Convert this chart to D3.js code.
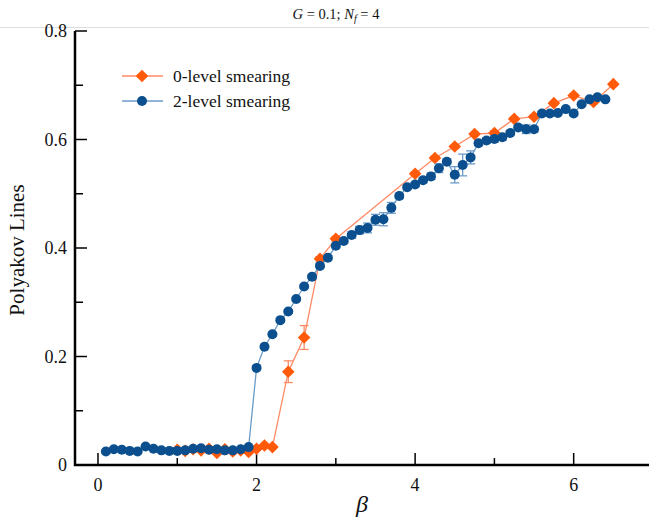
<!DOCTYPE html>
<html>
<head>
<meta charset="utf-8">
<script src="https://cdn.jsdelivr.net/npm/d3@7"></script>
<style>
  html, body { margin: 0; padding: 0; background: #fff; }
  svg { display: block; }
</style>
</head>
<body>
<svg id="chart" width="649" height="519"></svg>
<script>
// Polyakov line expectation vs. beta for two smearing levels
const beta0 = [1.0, 1.1, 1.2, 1.3, 1.4, 1.5, 1.6, 1.7, 1.8, 1.9, 2.0, 2.1, 2.2,
               2.4, 2.6, 2.8, 3.0,
               4.0, 4.25, 4.5, 4.75, 5.0, 5.25, 5.5, 5.75, 6.0, 6.25, 6.5];
const poly0 = [0.028, 0.026, 0.029, 0.027, 0.030, 0.022, 0.029, 0.025, 0.027, 0.024, 0.030, 0.036, 0.033,
               0.172, 0.235, 0.380, 0.417,
               0.537, 0.566, 0.587, 0.610, 0.612, 0.638, 0.642, 0.667, 0.681, 0.669, 0.702];
const err0  = [0.002, 0.002, 0.002, 0.002, 0.002, 0.002, 0.002, 0.002, 0.002, 0.002, 0.002, 0.003, 0.003,
               0.020, 0.022, 0.004, 0.004,
               0.003, 0.003, 0.003, 0.003, 0.004, 0.003, 0.003, 0.003, 0.003, 0.003, 0.003];

const beta2 = [0.1, 0.2, 0.3, 0.4, 0.5, 0.6, 0.7, 0.8, 0.9, 1.0,
               1.1, 1.2, 1.3, 1.4, 1.5, 1.6, 1.7, 1.8, 1.9, 2.0,
               2.1, 2.2, 2.3, 2.4, 2.5, 2.6, 2.7, 2.8, 2.9, 3.0,
               3.1, 3.2, 3.3, 3.4, 3.5, 3.6, 3.7, 3.8, 3.9, 4.0,
               4.1, 4.2, 4.3, 4.4, 4.5, 4.6, 4.7, 4.8, 4.9, 5.0,
               5.1, 5.2, 5.3, 5.4, 5.5, 5.6, 5.7, 5.8, 5.9, 6.0,
               6.1, 6.2, 6.3, 6.4];
const poly2 = [0.025, 0.029, 0.028, 0.026, 0.025, 0.034, 0.030, 0.027, 0.026, 0.026,
               0.027, 0.030, 0.031, 0.028, 0.029, 0.027, 0.027, 0.029, 0.033, 0.179,
               0.218, 0.241, 0.267, 0.283, 0.306, 0.329, 0.347, 0.367, 0.382, 0.404,
               0.413, 0.424, 0.433, 0.437, 0.452, 0.453, 0.474, 0.496, 0.512, 0.517,
               0.525, 0.532, 0.547, 0.559, 0.535, 0.553, 0.567, 0.593, 0.598, 0.601,
               0.604, 0.612, 0.622, 0.619, 0.619, 0.648, 0.648, 0.649, 0.656, 0.648,
               0.665, 0.674, 0.678, 0.674];
const err2  = [0.002, 0.002, 0.002, 0.002, 0.002, 0.002, 0.002, 0.002, 0.002, 0.002,
               0.002, 0.002, 0.002, 0.002, 0.002, 0.002, 0.002, 0.002, 0.002, 0.003,
               0.003, 0.003, 0.003, 0.003, 0.003, 0.003, 0.003, 0.003, 0.004, 0.004,
               0.004, 0.006, 0.007, 0.009, 0.010, 0.012, 0.010, 0.005, 0.004, 0.004,
               0.005, 0.006, 0.008, 0.005, 0.015, 0.020, 0.012, 0.004, 0.005, 0.006,
               0.005, 0.004, 0.004, 0.008, 0.005, 0.004, 0.003, 0.003, 0.003, 0.004,
               0.003, 0.003, 0.003, 0.003];

const xTicks = [0, 2, 4, 6];
const yTicks = [0, 0.2, 0.4, 0.6, 0.8];
const seriesNames = ["0-level smearing", "2-level smearing"];

const svg = d3.select("#chart");
const serif = "'Liberation Serif', 'DejaVu Serif', serif";

const x = d3.scaleLinear().domain([-0.29, 6.95]).range([75, 649]);
const y = d3.scaleLinear().domain([0, 0.8]).range([465, 31]);

const orangeLine = "#ff8a65", orangeMark = "#ff5a0a";
const blueLine = "#6b9bc9", blueMark = "#0b4f8e";

// marker shapes: square diamond and filled circle
const diamondPath = "M0,-6.3L6.3,0L0,6.3L-6.3,0Z";
const circlePath = d3.symbol().type(d3.symbolCircle).size(Math.PI * 5 * 5)();
const markPath = s => s === "diamond" ? diamondPath : circlePath;

// title rule + title
svg.append("line").attr("x1", 0).attr("x2", 649).attr("y1", 27.5).attr("y2", 27.5)
  .attr("stroke", "#dddddd").attr("stroke-width", 1);
const title = svg.append("text").attr("x", 336).attr("y", 19).attr("text-anchor", "middle")
  .attr("font-family", serif).attr("font-size", 14.5).attr("fill", "#111");
title.append("tspan").attr("font-style", "italic").text("G");
title.append("tspan").text(" = 0.1; ");
title.append("tspan").attr("font-style", "italic").text("N");
title.append("tspan").attr("font-style", "italic").attr("font-size", 10).attr("dy", 3).text("f");
title.append("tspan").attr("dy", -3).text(" = 4");

// axes with inward ticks
const ax = svg.append("g").attr("stroke", "#000");
d3.range(0, 7, 1).forEach(v => {
  const len = v % 2 === 0 ? 12 : 7;
  ax.append("line").attr("x1", x(v)).attr("x2", x(v)).attr("y1", y(0)).attr("y2", y(0) - len).attr("stroke-width", 1.5);
});
d3.range(0, 0.81, 0.1).forEach((v, i) => {
  const len = i % 2 === 0 ? 12 : 8;
  ax.append("line").attr("x1", 75).attr("x2", 75 + len).attr("y1", y(v)).attr("y2", y(v)).attr("stroke-width", 1.5);
});
ax.append("path").attr("fill", "none").attr("stroke-width", 2.5)
  .attr("d", `M75,${y(0.8)} L75,${y(0)} L649,${y(0)}`);

svg.append("g").selectAll("text").data(xTicks).join("text")
  .attr("x", d => x(d)).attr("y", 491).attr("text-anchor", "middle")
  .attr("font-family", serif).attr("font-size", 18).attr("fill", "#111")
  .text(d => d3.format("d")(d));
svg.append("g").selectAll("text").data(yTicks).join("text")
  .attr("x", 67).attr("y", d => y(d) + 6).attr("text-anchor", "end")
  .attr("font-family", serif).attr("font-size", 18).attr("fill", "#111")
  .text(d => d === 0 ? "0" : d3.format(".1f")(d));

svg.append("text").attr("transform", "translate(24,250) rotate(-90)").attr("text-anchor", "middle")
  .attr("font-family", serif).attr("font-size", 21).attr("fill", "#111").text("Polyakov Lines");
svg.append("text").attr("x", 362).attr("y", 512).attr("text-anchor", "middle")
  .attr("font-family", serif).attr("font-style", "italic").attr("font-size", 24).attr("fill", "#111").text("β");

// series drawing
function drawSeries(bx, vy, ey, lineCol, markCol, shape) {
  const pts = bx.map((b, i) => ({ b, v: vy[i], e: ey[i] }));
  const g = svg.append("g");
  g.append("path").datum(pts).attr("fill", "none").attr("stroke", lineCol).attr("stroke-width", 1.3)
    .attr("d", d3.line().x(d => x(d.b)).y(d => y(d.v)));
  const eb = g.append("g").attr("stroke", lineCol).attr("stroke-width", 1.3);
  pts.forEach(d => {
    const y1 = y(d.v - d.e), y2 = y(d.v + d.e), cx = x(d.b);
    eb.append("line").attr("x1", cx).attr("x2", cx).attr("y1", y1).attr("y2", y2);
    eb.append("line").attr("x1", cx - 4.5).attr("x2", cx + 4.5).attr("y1", y1).attr("y2", y1);
    eb.append("line").attr("x1", cx - 4.5).attr("x2", cx + 4.5).attr("y1", y2).attr("y2", y2);
  });
  g.selectAll("path.mk").data(pts).join("path").attr("class", "mk")
    .attr("transform", d => `translate(${x(d.b)},${y(d.v)})`)
    .attr("d", markPath(shape))
    .attr("fill", markCol);
}
drawSeries(beta0, poly0, err0, orangeLine, orangeMark, "diamond");
drawSeries(beta2, poly2, err2, blueLine, blueMark, "circle");

// legend
const legend = svg.append("g");
[[orangeLine, orangeMark, "diamond"], [blueLine, blueMark, "circle"]].forEach((s, i) => {
  const ly = 76 + i * 25;
  legend.append("line").attr("x1", 122).attr("x2", 163).attr("y1", ly).attr("y2", ly).attr("stroke", s[0]).attr("stroke-width", 1.3);
  legend.append("path").attr("transform", `translate(142,${ly})`)
    .attr("d", markPath(s[2]))
    .attr("fill", s[1]);
  legend.append("text").attr("x", 173).attr("y", ly + 6).attr("font-family", serif).attr("font-size", 17.5)
    .attr("fill", "#111").text(seriesNames[i]);
});
</script>
</body>
</html>
